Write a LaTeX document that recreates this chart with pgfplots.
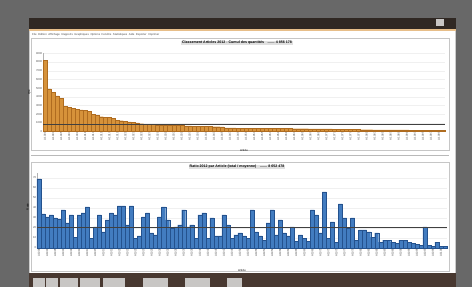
\documentclass[border=0pt]{standalone}
\usepackage{pgfplots}
\pgfplotsset{compat=1.18}
\usepackage{fontspec}
\setmainfont{Liberation Sans}
\definecolor{bg}{RGB}{104,104,104}
\definecolor{titlebar}{RGB}{48,40,35}
\definecolor{barorange}{RGB}{214,146,58}
\definecolor{edgeorange}{RGB}{175,108,32}
\definecolor{barblue}{RGB}{66,124,192}
\definecolor{edgeblue}{RGB}{36,82,142}
\definecolor{toolbar}{RGB}{72,56,48}
\definecolor{btn}{RGB}{200,198,196}
\newcommand{\ftiny}{\fontsize{2.8}{3.2}\selectfont}
\newcommand{\fsmall}{\fontsize{3.6}{4}\selectfont}
\begin{document}
\begin{tikzpicture}[x=1pt,y=1pt]
\useasboundingbox (0,0) rectangle (472,287);
\fill[bg] (0,0) rectangle (472,287);
% window frame
\fill[gray!40] (29,0) rectangle (456,269);
\fill[titlebar] (29,258) rectangle (456,269);
\fill[btn] (436,261) rectangle (444,268);
\fill[barorange!60!white] (29,256) rectangle (456,258);
\fill[white] (30,14) rectangle (455,256);
\fill[toolbar] (29,0) rectangle (456,14);
\foreach \a/\b in {33/45,46/58,60/78,80/100,103/125,143/168,185/210,227/242}
  \fill[btn] (\a,0) rectangle (\b,9);
% menu line
\node[anchor=west,inner sep=0pt,text=black!70] at (32,252)
  {\ftiny File\ \ Edition\ \ Affichage\ \ Rapports\ \ Graphiques\ \ Options\ \ Fenêtre\ \ Statistiques\ \ Aide\ \ Exporter\ \ Imprimer};
% panels
\draw[gray!45,line width=0.5pt] (31,137) rectangle (449,249);
\draw[gray!45,line width=0.5pt] (31,16) rectangle (449,125);
\draw[gray!55,line width=0.6pt] (31,132) -- (449,132);
% titles
\node[inner sep=0.6pt,fill=black!12,text=black] at (237,244)
  {\fsmall\bfseries Classement Articles 2012 - Cumul des quantités\quad ....... 4 856 178};
\node[inner sep=0.6pt,fill=black!12,text=black] at (237,120)
  {\fsmall\bfseries Ratio 2012 par Article (total / moyenne)\quad ....... 8 652 478};

% ---------------- top chart ----------------
\begin{axis}[
  at={(43pt,155.5pt)}, anchor=south west,
  scale only axis, width=402pt, height=78.2pt,
  xmin=0.5, xmax=100.5, ymin=0, ymax=9,
  axis lines*=left, axis line style={gray!60, line width=0.3pt},
  ytick={0,1,...,9}, yticklabel={\pgfmathparse{int(\tick*1000)}\pgfmathresult},
  yticklabel style={font=\ftiny, text=black!70, inner sep=0.5pt},
  xtick={1,3,...,99},
  xticklabel={\pgfmathtruncatemacro\n{1000+\tick}A\n},
  xticklabel style={rotate=90, anchor=east, font=\ftiny, text=black!70, inner sep=0.5pt},
  major tick length=1.2pt, tick style={gray!60, line width=0.3pt},
  ymajorgrids, grid style={gray!12, line width=0.3pt},
  ylabel={\ftiny Qté}, ylabel style={at={(axis description cs:-0.022,0.5)}},
  xlabel={\ftiny Article}, xlabel style={at={(axis description cs:0.5,-0.19)}},
  clip=false,
]
\addplot[ybar, bar width=1, fill=barorange, draw=edgeorange, line width=0.25pt] coordinates {
(1,8.2)(2,4.9)(3,4.5)(4,4.1)(5,3.8)(6,2.9)(7,2.8)(8,2.7)(9,2.55)(10,2.5)
(11,2.45)(12,2.3)(13,1.95)(14,1.85)(15,1.7)(16,1.65)(17,1.6)(18,1.5)(19,1.3)(20,1.25)
(21,1.15)(22,1.1)(23,1.05)(24,1.0)(25,0.9)(26,0.85)(27,0.83)(28,0.8)(29,0.78)(30,0.76)
(31,0.74)(32,0.72)(33,0.7)(34,0.69)(35,0.68)(36,0.66)(37,0.65)(38,0.63)(39,0.62)(40,0.6)
(41,0.59)(42,0.58)(43,0.56)(44,0.55)(45,0.53)(46,0.42)(47,0.41)(48,0.41)(49,0.40)(50,0.40)
(51,0.39)(52,0.39)(53,0.38)(54,0.38)(55,0.37)(56,0.37)(57,0.36)(58,0.36)(59,0.35)(60,0.35)
(61,0.34)(62,0.34)(63,0.33)(64,0.33)(65,0.32)(66,0.32)(67,0.31)(68,0.31)(69,0.30)(70,0.30)
(71,0.29)(72,0.29)(73,0.28)(74,0.28)(75,0.27)(76,0.27)(77,0.26)(78,0.22)(79,0.22)(80,0.21)
(81,0.21)(82,0.21)(83,0.20)(84,0.20)(85,0.20)(86,0.19)(87,0.19)(88,0.19)(89,0.18)(90,0.18)
(91,0.18)(92,0.17)(93,0.17)(94,0.17)(95,0.16)(96,0.16)(97,0.16)(98,0.15)(99,0.15)(100,0.15)
};
\addplot[black!75, line width=0.8pt] coordinates {(0.5,0.85) (100.5,0.85)};
\end{axis}

% ---------------- bottom chart ----------------
\begin{axis}[
  at={(37pt,39pt)}, anchor=south west,
  scale only axis, width=410pt, height=75pt,
  xmin=0.5, xmax=102.5, ymin=0, ymax=75,
  axis lines*=left, axis line style={gray!60, line width=0.3pt},
  ytick={0,10,...,70}, yticklabel={\pgfmathparse{int(\tick)}\pgfmathresult},
  yticklabel style={font=\ftiny, text=black!70, inner sep=0.5pt},
  xtick={1,3,...,101},
  xticklabel={\pgfmathtruncatemacro\n{1000+\tick}A\n},
  xticklabel style={rotate=90, anchor=east, font=\ftiny, text=black!70, inner sep=0.5pt},
  major tick length=1.2pt, tick style={gray!60, line width=0.3pt},
  ymajorgrids, grid style={gray!12, line width=0.3pt},
  ylabel={\ftiny Ratio}, ylabel style={at={(axis description cs:-0.012,0.55)}},
  xlabel={\ftiny Article}, xlabel style={at={(axis description cs:0.5,-0.24)}},
  clip=false,
]
\addplot[ybar, bar width=1, fill=barblue, draw=edgeblue, line width=0.25pt] coordinates {
(1,69)(2,34)(3,31)(4,33)(5,30)(6,29)(7,38)(8,25)(9,33)(10,11)
(11,33)(12,35)(13,41)(14,10)(15,21)(16,33)(17,16)(18,28)(19,35)(20,33)
(21,42)(22,42)(23,23)(24,42)(25,10)(26,12)(27,31)(28,35)(29,15)(30,13)
(31,31)(32,41)(33,28)(34,20)(35,21)(36,23)(37,38)(38,21)(39,23)(40,10)
(41,33)(42,35)(43,10)(44,30)(45,12)(46,12)(47,33)(48,23)(49,10)(50,13)
(51,15)(52,12)(53,10)(54,38)(55,16)(56,12)(57,8)(58,25)(59,38)(60,13)
(61,28)(62,15)(63,12)(64,21)(65,7)(66,13)(67,10)(68,7)(69,38)(70,33)
(71,15)(72,56)(73,10)(74,26)(75,6)(76,44)(77,30)(78,20)(79,30)(80,8)
(81,18)(82,18)(83,16)(84,11)(85,15)(86,6)(87,8)(88,8)(89,6)(90,5)
(91,8)(92,8)(93,6)(94,5)(95,4)(96,3)(97,21)(98,3)(99,2)(100,6)
(101,2)(102,2)
};
\addplot[black!75, line width=0.8pt] coordinates {(0.5,21) (102.5,21)};
\end{axis}
\end{tikzpicture}
\end{document}
